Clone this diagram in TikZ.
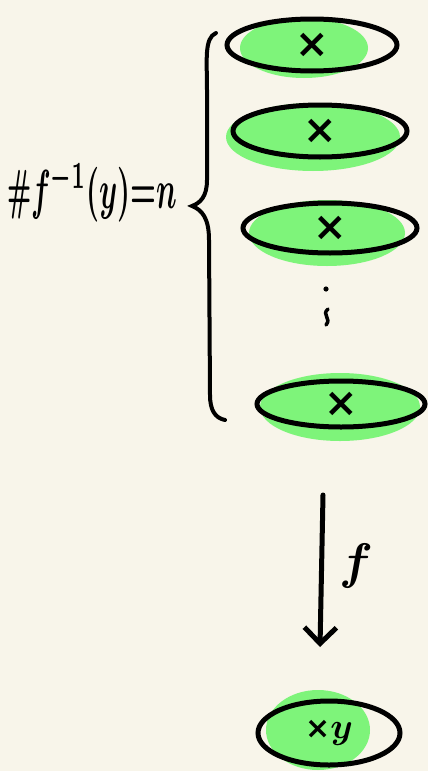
\documentclass[tikz,border=0pt]{standalone}
\usepackage{amsmath}
\usepackage{fontspec}
\newfontfamily\djv{DejaVu Sans}
\usetikzlibrary{shapes.geometric,arrows.meta}
\definecolor{bg}{HTML}{F8F5EA}
\definecolor{grn}{HTML}{7EF47A}
\newcommand{\cross}{{\djv\bfseries\fontsize{40}{40}\selectfont ×}}
\begin{document}
\begin{tikzpicture}[x=1pt,y=-1pt,
  blob/.style={ellipse, draw=black, line width=5pt, inner sep=0pt},
  greenfill/.style={fill=grn},
  stroke/.style={line width=5pt, line cap=round, line join=round}]
\fill[bg] (0,0) rectangle (428,771);
\useasboundingbox (0,0) rectangle (428,771);
% green fills
\fill[greenfill] (304,48) ellipse [x radius=64, y radius=30];
\fill[greenfill] (313,137) ellipse [x radius=87, y radius=34];
\fill[greenfill] (327,233) ellipse [x radius=78, y radius=33];
\fill[greenfill] (340,407) ellipse [x radius=80, y radius=34];
\fill[greenfill] (318,730) ellipse [x radius=52, y radius=40];
% outlines
\node[blob, minimum width=170pt, minimum height=52pt] (e1) at (312,45) {\cross};
\node[blob, minimum width=174pt, minimum height=52pt] (e2) at (320,131) {\cross};
\node[blob, minimum width=174pt, minimum height=50pt] (e3) at (330,228) {\cross};
\node[blob, minimum width=168pt, minimum height=46pt] (e4) at (341,404) {\cross};
\node[blob, minimum width=142pt, minimum height=64pt] (y) at (329,733) {{\djv\bfseries\fontsize{30}{30}\selectfont ×}\scalebox{3.6}{\boldmath$y$}};
% vertical dots
\fill (326,289) circle (2.6);
\draw[line width=3.5pt, line cap=round] (328,309) .. controls (321,315) and (332,318) .. (326,325);
% brace
\draw[line width=4pt, line cap=round] (216,33) .. controls (204,38) and (207,60) .. (207,90)
  -- (207,180) .. controls (207,197) and (200,203) .. (192,206)
  .. controls (202,210) and (209,218) .. (209,240) -- (210,395)
  .. controls (210,410) and (215,418) .. (225,420);
% label
\node[inner sep=0pt] (lbl) at (92,192) {\scalebox{2.9}[5.5]{\boldmath$\#f^{-1}(y){=}n$}};
% arrow
\coordinate (a1) at (323,495);
\coordinate (a2) at (320,647);
\draw[stroke, -{Straight Barb[length=16pt, width=32pt]}] (a1) -- (a2);
\node[inner sep=0pt] (fl) at (356,566) {\scalebox{5}{\boldmath$f$}};
\end{tikzpicture}
\end{document}
